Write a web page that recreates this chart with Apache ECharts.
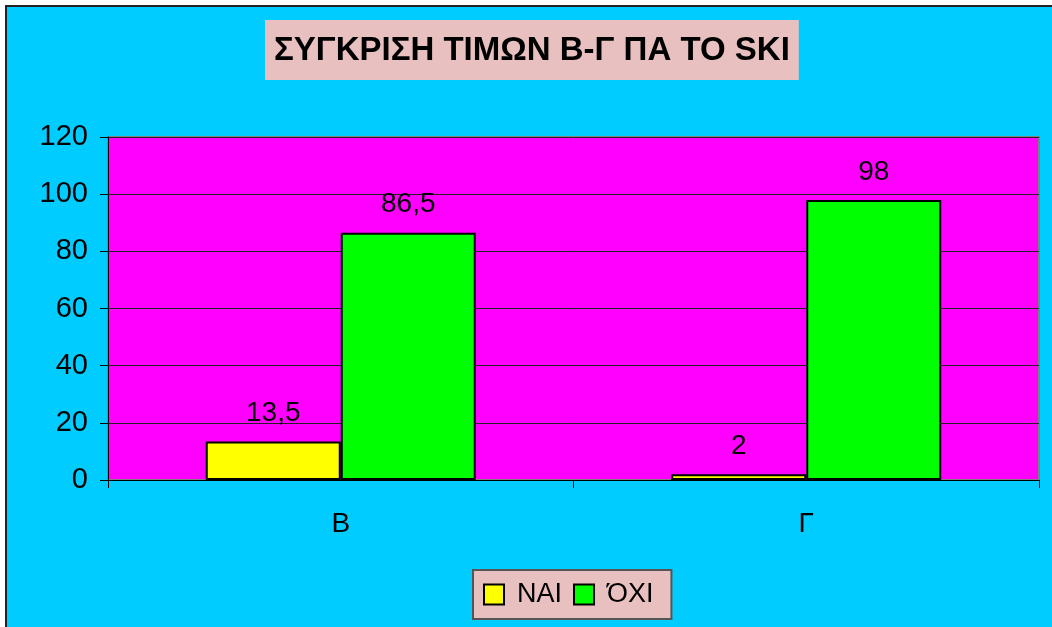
<!DOCTYPE html>
<html>
<head>
<meta charset="utf-8">
<script src="https://cdn.jsdelivr.net/npm/echarts@6/dist/echarts.min.js"></script>
<style>
  html, body { margin: 0; padding: 0; background: #fff; }
  #chart { width: 1052px; height: 627px; }
</style>
</head>
<body>
<div id="chart"></div>
<script>
// data
const categories = ["Β", "Γ"];
const seriesNames = ["ΝΑΙ", "ΌΧΙ"];
const naiValues = [13.5, 2];
const oxiValues = [86.5, 98];
const yTicks = { min: 0, max: 120, interval: 20 };

const font = "'Liberation Sans', Arial, sans-serif";
const commaLabel = (p) => String(p.value).replace(".", ",");

const chart = echarts.init(document.getElementById("chart"));
chart.setOption({
  backgroundColor: "#ffffff",
  animation: false,
  textStyle: { fontFamily: font, color: "#000" },
  graphic: [
    {
      type: "rect",
      z: -1,
      shape: { x: 6, y: 6, width: 1100, height: 700 },
      style: { fill: "#00CCFF", stroke: "#222", lineWidth: 2 },
    },
  ],
  title: {
    text: "ΣΥΓΚΡΙΣΗ ΤΙΜΩΝ Β-Γ ΠΑ ΤΟ SKI",
    left: 265,
    top: 20,
    padding: [14, 9, 13, 9],
    backgroundColor: "#E9C0C0",
    textStyle: {
      fontFamily: font,
      fontWeight: "bold",
      fontSize: 33,
      color: "#000",
    },
  },
  legend: {
    data: seriesNames,
    left: 473,
    top: 570,
    icon: "rect",
    itemWidth: 20,
    itemHeight: 20,
    itemGap: 11,
    padding: [11, 18, 11, 10],
    backgroundColor: "#E9C0C0",
    borderColor: "#555",
    borderWidth: 2,
    textStyle: { fontFamily: font, fontSize: 27, color: "#000", padding: [0, 0, 0, 8] },
  },
  grid: {
    left: 108,
    right: 13,
    top: 137,
    bottom: 147,
    show: true,
    backgroundColor: "#FF00FF",
    borderColor: "#808080",
    borderWidth: 2,
  },
  xAxis: {
    type: "category",
    data: categories,
    axisLine: { show: true, lineStyle: { color: "#000", width: 1 } },
    axisTick: { show: true, length: 8, lineStyle: { color: "#000" } },
    axisLabel: { fontFamily: font, fontSize: 28, color: "#000", margin: 30 },
  },
  yAxis: {
    type: "value",
    min: yTicks.min,
    max: yTicks.max,
    interval: yTicks.interval,
    axisLine: { show: true, lineStyle: { color: "#000", width: 1 } },
    axisTick: { show: true, length: 8, lineStyle: { color: "#000" } },
    axisLabel: { fontFamily: font, fontSize: 29, color: "#000", margin: 20 },
    splitLine: { show: true, lineStyle: { color: "#222", width: 1 } },
  },
  series: [
    {
      name: seriesNames[0],
      type: "bar",
      data: naiValues,
      barGap: "0%",
      barCategoryGap: "42%",
      itemStyle: { color: "#FFFF00", borderColor: "#000", borderWidth: 2 },
      label: {
        show: true,
        position: "top",
        distance: 14,
        fontFamily: font,
        fontSize: 28,
        color: "#000",
        formatter: commaLabel,
      },
    },
    {
      name: seriesNames[1],
      type: "bar",
      data: oxiValues,
      barGap: "0%",
      barCategoryGap: "42%",
      itemStyle: { color: "#00FF00", borderColor: "#000", borderWidth: 2 },
      label: {
        show: true,
        position: "top",
        distance: 14,
        fontFamily: font,
        fontSize: 28,
        color: "#000",
        formatter: commaLabel,
      },
    },
  ],
});
</script>
</body>
</html>
